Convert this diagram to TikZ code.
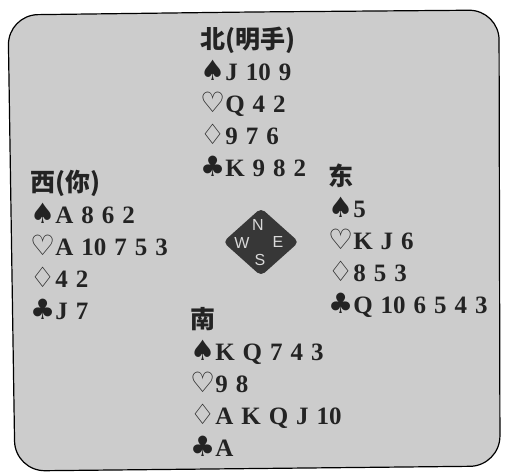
\documentclass[tikz,border=0pt]{standalone}
\usepackage{fontspec}
\setmainfont{Liberation Serif}
\newfontfamily\cjk{Noto Sans CJK SC}
\newfontfamily\suits{DejaVu Sans}
\newfontfamily\dirfont{Liberation Sans}
\usetikzlibrary{shapes.geometric}
\definecolor{paper}{RGB}{204,204,204}
\definecolor{ink}{RGB}{35,35,35}
\definecolor{dial}{RGB}{55,55,55}

\newcommand{\spd}{{\suits\fontsize{28}{32}\selectfont ♠}}
\newcommand{\hrt}{{\suits\fontsize{28}{32}\selectfont ♡}}
\newcommand{\dmd}{{\suits\fontsize{28}{32}\selectfont ♢}}
\newcommand{\clb}{{\suits\fontsize{28}{32}\selectfont ♣}}

\begin{document}
\begin{tikzpicture}[x=1pt,y=-1pt,
    hand/.style={anchor=north west,align=left,inner sep=0pt,text=ink,
      font=\fontsize{25}{32}\selectfont\bfseries,
      execute at begin node={\spaceskip=8pt plus 1pt minus 1pt\relax}},
    dir/.style={inner sep=0pt,text=white!85!black,font=\dirfont\fontsize{16}{16}\selectfont}]
    \useasboundingbox (0,0) rectangle (506,472);
    % table frame
    \draw[line width=1.2pt,fill=paper,rounded corners=30] (250,12) -- (499,10) -- (500,466) -- (15,471) -- (8,15) -- cycle;
    % the four hands
    \node[hand] (north) at (200,27) {{\cjk 北(明手)}\\\spd J 10 9\\\hrt Q 4 2\\\dmd 9 7 6\\\clb K 9 8 2};
    \node[hand] (west) at (30,170) {{\cjk 西(你)}\\\spd A 8 6 2\\\hrt A 10 7 5 3\\\dmd 4 2\\\clb J 7};
    \node[hand] (east) at (328,164) {{\cjk 东}\\\spd 5\\\hrt K J 6\\\dmd 8 5 3\\\clb Q 10 6 5 4 3};
    \node[hand] (south) at (190,307) {{\cjk 南}\\\spd K Q 7 4 3\\\hrt 9 8\\\dmd A K Q J 10\\\clb A};
    % compass
    \node[diamond,fill=dial,rounded corners=5pt,minimum width=76pt,minimum height=68pt,inner sep=0pt] (compass) at (261,242) {};
    \node[dir] (n) at (258,225) {N};
    \node[dir] (w) at (242,243) {W};
    \node[dir] (e) at (278,242) {E};
    \node[dir] (s) at (260,260) {S};
\end{tikzpicture}
\end{document}
